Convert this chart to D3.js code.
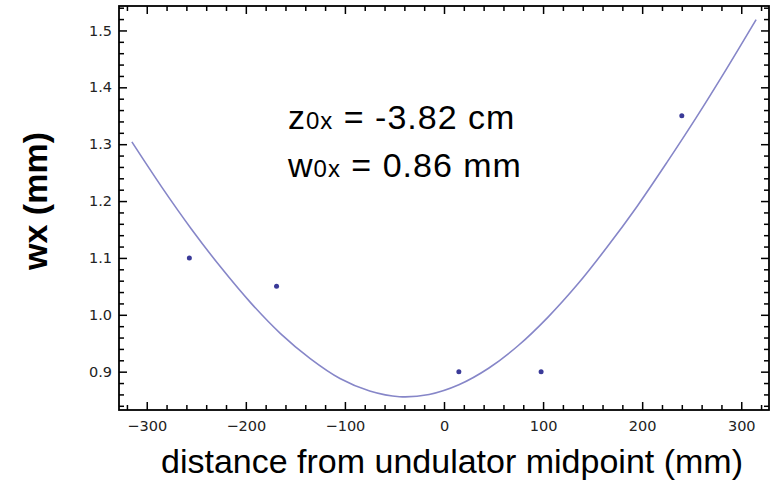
<!DOCTYPE html>
<html>
<head>
<meta charset="utf-8">
<script src="https://cdn.jsdelivr.net/npm/d3@7"></script>
<style>
  body { margin: 0; background: #fff; }
  .tick text { font-family: "DejaVu Sans", sans-serif; font-size: 14.5px; fill: #222; }
  .tick line { stroke: #000; stroke-width: 1.5; }
</style>
</head>
<body>
<script>
// measured points (mm)
var pointZ = [-257, -169, 15, 98, 240];
var pointW = [1.10, 1.05, 0.90, 0.90, 1.35];

// fitted curve
var curveZ = [-315, -285, -255, -225, -195, -165, -135, -105, -75, -45, -15, 15, 45, 75, 105, 135, 165, 195, 225, 255, 285, 315];
var curveW = [1.304, 1.225, 1.151, 1.083, 1.021, 0.967, 0.923, 0.888, 0.866, 0.856, 0.860, 0.877, 0.906, 0.946, 0.996, 1.054, 1.120, 1.191, 1.268, 1.348, 1.432, 1.519];

var xTicks = [-300, -200, -100, 0, 100, 200, 300];
var yTicks = [0.9, 1.0, 1.1, 1.2, 1.3, 1.4, 1.5];

var margin = { top: 6, right: 3, bottom: 74, left: 119 },
width = 772 - margin.left - margin.right,
height = 484 - margin.top - margin.bottom;

var x = d3.scaleLinear().domain([-328, 328]).range([0, width]);
var y = d3.scaleLinear().domain([0.8326, 1.543]).range([height, 0]);

var xMinor = d3.range(-320, 321, 20).filter(function (d) { return d % 100 != 0; });
var yMinor = d3.range(84, 155, 2).map(function (d) { return d / 100; }).
filter(function (d) { return Math.round(d * 100) % 10 != 0; });

var svg = d3.select('body').
append('svg').
attr('width', 772).
attr('height', 484).
append('g').
attr('transform', 'translate(' + margin.left + ',' + margin.top + ')');

var fmt = function (d) { return d < 0 ? '\u2212' + (-d) : d; };

// bottom axis
svg.append('g').
attr('transform', 'translate(0,' + height + ')').
call(d3.axisBottom(x).tickValues(xTicks).tickSize(-8).tickPadding(11).tickFormat(fmt));
svg.append('g').
attr('transform', 'translate(0,' + height + ')').
call(d3.axisBottom(x).tickValues(xMinor).tickSize(-5).tickFormat(''));

// top axis
svg.append('g').
call(d3.axisTop(x).tickValues(xTicks).tickSize(-8).tickFormat(''));
svg.append('g').
call(d3.axisTop(x).tickValues(xMinor).tickSize(-5).tickFormat(''));

// left axis
svg.append('g').
call(d3.axisLeft(y).tickValues(yTicks).tickSize(-8).tickPadding(7).tickFormat(d3.format('.1f')));
svg.append('g').
call(d3.axisLeft(y).tickValues(yMinor).tickSize(-5).tickFormat(''));

// right axis
svg.append('g').
attr('transform', 'translate(' + width + ',0)').
call(d3.axisRight(y).tickValues(yTicks).tickSize(-8).tickFormat(''));
svg.append('g').
attr('transform', 'translate(' + width + ',0)').
call(d3.axisRight(y).tickValues(yMinor).tickSize(-5).tickFormat(''));

svg.selectAll('.domain').remove();

// frame
svg.append('rect').
attr('width', width).
attr('height', height).
attr('fill', 'none').
attr('stroke', '#000').
attr('stroke-width', 1.8);

// fit curve
var line = d3.line().
x(function (d) { return x(d[0]); }).
y(function (d) { return y(d[1]); }).
curve(d3.curveCatmullRom);

svg.append('path').
datum(d3.zip(curveZ, curveW)).
attr('d', line).
attr('fill', 'none').
attr('stroke', '#8686c8').
attr('stroke-width', 1.6);

// data points
svg.selectAll('circle').
data(d3.zip(pointZ, pointW)).
enter().
append('circle').
attr('r', 2.5).
attr('cx', function (d) { return x(d[0]); }).
attr('cy', function (d) { return y(d[1]); }).
attr('fill', '#3a3a98');

// annotation
var notes = [['z', '0x', ' = -3.82 cm'], ['w', '0x', ' = 0.86 mm']];
notes.forEach(function (n, i) {
  var t = svg.append('text').
  attr('x', 288 - margin.left).
  attr('y', 129 - margin.top + i * 48).
  attr('font-family', 'Liberation Sans, Arial, sans-serif').
  attr('font-size', 34).
  attr('letter-spacing', 1).
  attr('fill', '#000');
  t.append('tspan').text(n[0]);
  t.append('tspan').attr('font-size', 24).text(n[1]);
  t.append('tspan').text(n[2]);
});

// axis titles
svg.append('text').
attr('x', 452 - margin.left).
attr('y', 473 - margin.top).
attr('text-anchor', 'middle').
attr('font-family', 'Liberation Sans, Arial, sans-serif').
attr('font-size', 34).
attr('fill', '#000').
text('distance from undulator midpoint (mm)');

svg.append('text').
attr('transform', 'translate(' + (47 - margin.left) + ',' + (201 - margin.top) + ') rotate(-90)').
attr('text-anchor', 'middle').
attr('font-family', 'Liberation Sans, Arial, sans-serif').
attr('font-weight', 'bold').
attr('font-size', 34).
attr('fill', '#000').
text('wx (mm)');
</script>
</body>
</html>
